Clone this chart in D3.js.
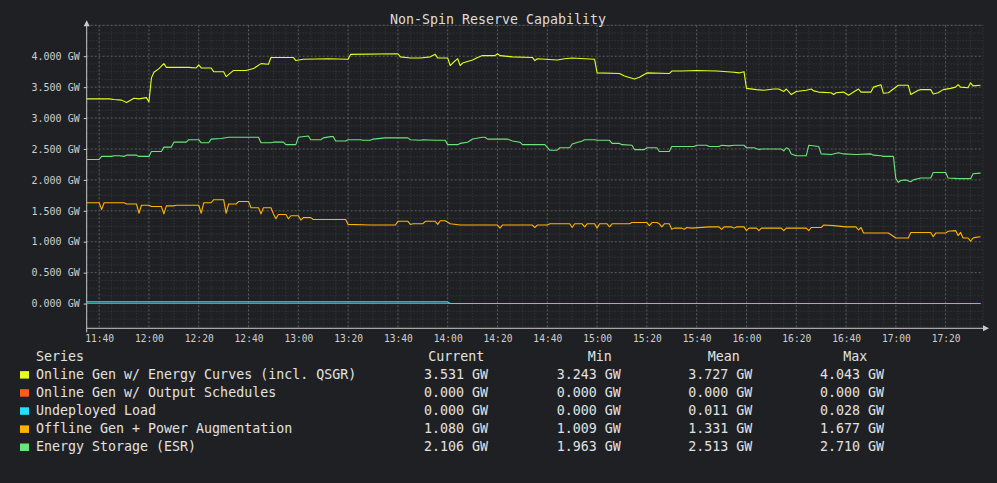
<!DOCTYPE html>
<html>
<head>
<meta charset="utf-8">
<script src="https://cdn.jsdelivr.net/npm/d3@7"></script>
<style>
html, body { margin: 0; background: #1f2023; }
svg { display: block; font-family: "DejaVu Sans Mono", monospace; }
</style>
</head>
<body>
<svg id="chart" width="997" height="483"></svg>
<script>
'use strict';

var chartTitle = "Non-Spin Reserve Capability";
var seriesNames = [
    "Online Gen w/ Energy Curves (incl. QSGR)",
    "Online Gen w/ Output Schedules",
    "Undeployed Load",
    "Offline Gen + Power Augmentation",
    "Energy Storage (ESR)"
];
var seriesColors = ["#e4ff1c", "#ff5a1f", "#22e1ff", "#ffb300", "#6ce47c"];
var legendHeaders = ["Series", "Current", "Min", "Mean", "Max"];
var statCurrent = [3.531, 0.000, 0.000, 1.080, 2.106];
var statMin = [3.243, 0.000, 0.000, 1.009, 1.963];
var statMean = [3.727, 0.000, 0.011, 1.331, 2.513];
var statMax = [4.043, 0.000, 0.028, 1.677, 2.710];

var timeStart = "11:35", timeEnd = "17:35";
var valueMin = -0.4, valueMax = 4.5;

// values in GW
var energyCurves = [["11:35",3.31],["11:44",3.31],["11:46",3.30],["11:49",3.29],["11:51",3.25],["11:54",3.32],["11:56",3.31],["11:59",3.33],["12:00",3.26],["12:01",3.65],["12:02",3.74],["12:04",3.80],["12:06",3.88],["12:07",3.82],["12:16",3.82],["12:19",3.81],["12:20",3.86],["12:21",3.81],["12:25",3.81],["12:26",3.75],["12:30",3.75],["12:31",3.67],["12:34",3.77],["12:39",3.77],["12:42",3.80],["12:45",3.88],["12:48",3.87],["12:49",3.98],["12:58",3.98],["12:59",3.93],["13:02",3.95],["13:12",3.96],["13:20",3.95],["13:21",4.03],["13:40",4.04],["13:41",3.99],["13:45",3.97],["13:49",3.97],["13:53",3.99],["13:55",4.03],["13:56",3.97],["14:00",3.97],["14:01",3.85],["14:02",3.89],["14:04",3.96],["14:05",3.85],["14:06",3.89],["14:10",3.94],["14:12",3.98],["14:14",4.01],["14:19",4.01],["14:20",4.04],["14:21",4.01],["14:26",3.99],["14:34",3.98],["14:35",3.93],["14:36",3.96],["14:44",3.94],["14:47",3.96],["14:50",3.97],["14:55",3.96],["14:59",3.95],["15:00",3.73],["15:09",3.72],["15:11",3.68],["15:15",3.63],["15:17",3.66],["15:20",3.73],["15:29",3.72],["15:30",3.76],["15:34",3.76],["15:40",3.77],["15:48",3.76],["15:55",3.74],["15:57",3.73],["15:59",3.75],["16:00",3.48],["16:04",3.46],["16:07",3.45],["16:11",3.47],["16:13",3.47],["16:15",3.43],["16:16",3.47],["16:18",3.38],["16:20",3.43],["16:24",3.45],["16:26",3.47],["16:27",3.44],["16:29",3.42],["16:34",3.41],["16:35",3.38],["16:36",3.41],["16:39",3.42],["16:41",3.37],["16:43",3.42],["16:45",3.47],["16:46",3.42],["16:50",3.42],["16:51",3.50],["16:54",3.54],["16:55",3.40],["16:57",3.41],["16:59",3.47],["17:01",3.53],["17:05",3.53],["17:06",3.38],["17:09",3.45],["17:10",3.46],["17:14",3.46],["17:15",3.39],["17:17",3.41],["17:19",3.46],["17:22",3.48],["17:24",3.50],["17:25",3.54],["17:26",3.50],["17:29",3.49],["17:30",3.57],["17:31",3.52],["17:34",3.53]];
var outputSchedules = [["11:35",0],["17:34",0]];
var undeployedLoad = [["11:35",0.028],["14:00",0.028],["14:01",0],["17:34",0]];
var offlineGen = [["11:35",1.63],["11:40",1.63],["11:41",1.52],["11:42",1.63],["11:50",1.63],["11:51",1.61],["11:55",1.61],["11:56",1.46],["11:57",1.59],["12:00",1.59],["12:01",1.57],["12:05",1.57],["12:06",1.45],["12:07",1.58],["12:10",1.58],["12:11",1.59],["12:20",1.59],["12:21",1.46],["12:22",1.63],["12:25",1.63],["12:26",1.68],["12:30",1.68],["12:31",1.46],["12:32",1.61],["12:35",1.61],["12:36",1.65],["12:40",1.65],["12:41",1.55],["12:44",1.55],["12:45",1.45],["12:46",1.55],["12:49",1.55],["12:50",1.45],["12:51",1.37],["12:52",1.44],["12:55",1.44],["12:56",1.37],["12:57",1.42],["13:00",1.42],["13:01",1.35],["13:02",1.39],["13:05",1.39],["13:06",1.36],["13:19",1.36],["13:20",1.28],["13:29",1.27],["13:39",1.27],["13:40",1.33],["13:44",1.33],["13:45",1.28],["13:46",1.29],["13:50",1.29],["13:51",1.33],["13:55",1.33],["13:56",1.28],["13:57",1.34],["13:59",1.34],["14:01",1.29],["14:05",1.27],["14:20",1.27],["14:21",1.22],["14:22",1.27],["14:34",1.27],["14:35",1.23],["14:36",1.27],["14:40",1.27],["14:41",1.29],["14:49",1.29],["14:50",1.23],["14:51",1.29],["14:54",1.29],["14:55",1.24],["14:56",1.29],["14:59",1.29],["15:00",1.22],["15:01",1.29],["15:04",1.29],["15:05",1.24],["15:06",1.29],["15:13",1.29],["15:14",1.31],["15:20",1.31],["15:21",1.26],["15:22",1.31],["15:24",1.31],["15:25",1.29],["15:26",1.24],["15:27",1.29],["15:29",1.29],["15:30",1.20],["15:31",1.22],["15:34",1.22],["15:35",1.20],["15:36",1.23],["15:38",1.22],["15:45",1.24],["15:49",1.24],["15:50",1.20],["15:51",1.24],["15:54",1.24],["15:55",1.22],["15:56",1.24],["15:59",1.24],["16:00",1.18],["16:01",1.22],["16:04",1.22],["16:05",1.18],["16:06",1.22],["16:14",1.22],["16:15",1.18],["16:16",1.22],["16:24",1.22],["16:25",1.18],["16:26",1.23],["16:30",1.23],["16:31",1.27],["16:35",1.26],["16:40",1.24],["16:44",1.24],["16:45",1.19],["16:46",1.23],["16:47",1.14],["16:57",1.14],["17:00",1.06],["17:05",1.06],["17:06",1.15],["17:14",1.15],["17:15",1.08],["17:16",1.14],["17:20",1.14],["17:21",1.17],["17:24",1.18],["17:25",1.10],["17:26",1.15],["17:27",1.06],["17:29",1.06],["17:30",1.01],["17:31",1.06],["17:32",1.07],["17:34",1.08]];
var energyStorage = [["11:35",2.33],["11:40",2.33],["11:41",2.38],["11:45",2.38],["11:46",2.39],["11:48",2.39],["11:50",2.38],["11:51",2.40],["11:55",2.40],["11:56",2.38],["12:00",2.38],["12:01",2.46],["12:05",2.46],["12:06",2.53],["12:09",2.53],["12:10",2.61],["12:15",2.61],["12:16",2.65],["12:20",2.65],["12:21",2.60],["12:24",2.60],["12:25",2.66],["12:29",2.67],["12:32",2.69],["12:44",2.69],["12:45",2.60],["12:49",2.60],["12:50",2.61],["12:54",2.61],["12:55",2.57],["12:59",2.57],["13:00",2.69],["13:04",2.71],["13:05",2.65],["13:09",2.65],["13:10",2.68],["13:13",2.70],["13:14",2.70],["13:15",2.63],["13:19",2.63],["13:20",2.65],["13:25",2.65],["13:26",2.64],["13:29",2.64],["13:30",2.66],["13:35",2.68],["13:44",2.68],["13:45",2.65],["13:49",2.64],["13:50",2.65],["13:55",2.64],["13:59",2.64],["14:00",2.57],["14:04",2.57],["14:05",2.59],["14:08",2.61],["14:10",2.66],["14:14",2.69],["14:15",2.69],["14:16",2.66],["14:24",2.66],["14:26",2.63],["14:29",2.61],["14:30",2.57],["14:39",2.57],["14:41",2.48],["14:44",2.48],["14:45",2.52],["14:49",2.52],["14:50",2.58],["14:54",2.63],["14:55",2.65],["14:59",2.65],["15:00",2.64],["15:05",2.64],["15:06",2.59],["15:09",2.59],["15:10",2.57],["15:14",2.56],["15:15",2.49],["15:19",2.49],["15:20",2.52],["15:24",2.52],["15:25",2.46],["15:29",2.46],["15:30",2.54],["15:39",2.54],["15:40",2.56],["15:44",2.56],["15:45",2.54],["15:49",2.54],["15:50",2.56],["15:53",2.55],["15:55",2.56],["15:59",2.56],["16:00",2.52],["16:03",2.52],["16:05",2.49],["16:06",2.50],["16:14",2.50],["16:15",2.47],["16:16",2.52],["16:17",2.50],["16:18",2.42],["16:20",2.39],["16:24",2.39],["16:25",2.56],["16:29",2.54],["16:30",2.42],["16:34",2.41],["16:37",2.44],["16:39",2.42],["16:44",2.41],["16:50",2.42],["16:51",2.40],["16:54",2.39],["16:55",2.38],["16:59",2.38],["17:00",2.02],["17:01",1.96],["17:02",1.99],["17:04",2.00],["17:06",1.97],["17:07",2.00],["17:10",2.03],["17:14",2.03],["17:15",2.12],["17:20",2.12],["17:21",2.03],["17:25",2.02],["17:30",2.02],["17:31",2.10],["17:34",2.11]];

var seriesData = [energyCurves, outputSchedules, undeployedLoad, offlineGen, energyStorage];

var Chart = function() {
    return {
        svg: null,
        left: 86.7,
        right: 983,
        top: 25.3,
        bottom: 328.3,
        parse: d3.timeParse("%H:%M"),
        init: function() {
            this.svg = d3.select("#chart");
            this.x = d3.scaleTime()
                .domain([this.parse(timeStart), this.parse(timeEnd)])
                .range([this.left, this.right]);
            this.y = d3.scaleLinear()
                .domain([valueMin, valueMax])
                .range([this.bottom, this.top]);

            this.drawGrid();
            this.drawAxes();
            this.drawLines();
            this.drawLegend();

            this.svg.append("text")
                .attr("x", 498)
                .attr("y", 23.5)
                .attr("text-anchor", "middle")
                .attr("fill", "#dcdcdc")
                .style("font-size", "13.3px")
                .text(chartTitle);
        },
        drawGrid: function() {
            var x = this.x, y = this.y, self = this;
            var grid = this.svg.append("g").attr("class", "grid");
            var majorX = x.ticks(d3.timeMinute.every(20)).map(Number);
            var minorX = x.ticks(d3.timeMinute.every(5))
                .filter(d => majorX.indexOf(+d) < 0 && x(d) > self.left + 1);
            var majorY = y.ticks(10).filter(d => Math.abs((d * 2) - Math.round(d * 2)) < 1e-9);
            var minorY = d3.range(-0.375, valueMax + 1e-9, 0.125)
                .filter(d => Math.abs(d * 2 - Math.round(d * 2)) > 1e-9);
            // also the 4.5 line at the top
            minorY.push(valueMax);

            grid.selectAll("line.minor-x")
                .data(minorX)
                .enter().append("line")
                    .attr("x1", d => x(d)).attr("x2", d => x(d))
                    .attr("y1", this.top).attr("y2", this.bottom)
                    .attr("stroke", "#3b3c40")
                    .attr("stroke-dasharray", "1,2");
            grid.selectAll("line.minor-y")
                .data(minorY)
                .enter().append("line")
                    .attr("x1", this.left).attr("x2", this.right)
                    .attr("y1", d => y(d)).attr("y2", d => y(d))
                    .attr("stroke", "#3b3c40")
                    .attr("stroke-dasharray", "1,2");
            grid.selectAll("line.major-x")
                .data(majorX)
                .enter().append("line")
                    .attr("x1", d => x(d)).attr("x2", d => x(d))
                    .attr("y1", this.top).attr("y2", this.bottom)
                    .attr("stroke", "#5c5d61")
                    .attr("stroke-dasharray", "2,2");
            grid.selectAll("line.major-y")
                .data(majorY)
                .enter().append("line")
                    .attr("x1", this.left).attr("x2", this.right)
                    .attr("y1", d => y(d)).attr("y2", d => y(d))
                    .attr("stroke", "#5c5d61")
                    .attr("stroke-dasharray", "2,2");
        },
        drawAxes: function() {
            var x = this.x, y = this.y;
            var axisColor = "#c9c9c9";

            var xAxis = this.svg.append("g")
                .attr("transform", "translate(0," + this.bottom + ")")
                .call(d3.axisBottom(x)
                    .ticks(d3.timeMinute.every(20))
                    .tickFormat(d3.timeFormat("%H:%M"))
                    .tickSize(0)
                    .tickPadding(7));
            xAxis.select(".domain").remove();
            xAxis.selectAll("text")
                .attr("fill", "#cfcfcf")
                .style("font-size", "9.6px")
                .style("font-family", "DejaVu Sans Mono, monospace");

            var yAxis = this.svg.append("g")
                .attr("transform", "translate(" + this.left + ",0)")
                .call(d3.axisLeft(y)
                    .tickValues(d3.range(0, 4.01, 0.5))
                    .tickFormat(d => d3.format(".3f")(d) + " GW")
                    .tickSize(3)
                    .tickPadding(4));
            yAxis.select(".domain").remove();
            yAxis.selectAll("line").attr("stroke", axisColor);
            yAxis.selectAll("text")
                .attr("fill", "#cfcfcf")
                .style("font-size", "10px")
                .style("font-family", "DejaVu Sans Mono, monospace");

            // axis lines with arrow heads
            this.svg.append("line")
                .attr("x1", this.left).attr("x2", this.right + 2)
                .attr("y1", this.bottom).attr("y2", this.bottom)
                .attr("stroke", axisColor);
            this.svg.append("line")
                .attr("x1", this.left).attr("x2", this.left)
                .attr("y1", this.bottom + 4).attr("y2", this.top - 2)
                .attr("stroke", axisColor);
            this.svg.append("path")
                .attr("d", "M" + (this.right + 6) + "," + this.bottom +
                    "L" + this.right + "," + (this.bottom - 3) +
                    "L" + this.right + "," + (this.bottom + 3) + "Z")
                .attr("fill", axisColor);
            this.svg.append("path")
                .attr("d", "M" + this.left + "," + (this.top - 5) +
                    "L" + (this.left - 3) + "," + (this.top + 1) +
                    "L" + (this.left + 3) + "," + (this.top + 1) + "Z")
                .attr("fill", axisColor);
        },
        drawLines: function() {
            var x = this.x, y = this.y, parse = this.parse;
            var line = d3.line()
                .x(d => x(parse(d[0])))
                .y(d => y(d[1]));
            this.svg.append("g")
                .attr("class", "lines")
                .selectAll("path")
                .data(seriesData)
                .enter().append("path")
                    .attr("d", line)
                    .attr("fill", "none")
                    .attr("stroke", (d, i) => seriesColors[i])
                    .attr("stroke-width", 1.1)
                    .attr("stroke-linejoin", "round");
        },
        drawLegend: function() {
            var legend = this.svg.append("g")
                .attr("class", "legend")
                .attr("fill", "#e2e2e2")
                .style("font-size", "13.3px");
            var headerX = [36, 428.3, 587.7, 707.7, 843.3];
            var valueX = [424, 556.7, 688.3, 820];
            var rowY = d3.range(0, 6).map(i => 360.5 + i * 18.1);
            var fmt = d => d3.format(".3f")(d) + " GW";

            legend.selectAll("text.header")
                .data(legendHeaders)
                .enter().append("text")
                    .attr("x", (d, i) => headerX[i])
                    .attr("y", rowY[0])
                    .text(d => d);

            var rows = legend.selectAll("g.row")
                .data(seriesNames)
                .enter().append("g")
                    .attr("transform", (d, i) => "translate(0," + rowY[i + 1] + ")");
            rows.append("rect")
                .attr("x", 20).attr("y", -7.5)
                .attr("width", 9).attr("height", 7.5)
                .attr("fill", (d, i) => seriesColors[i]);
            rows.append("text")
                .attr("x", 36)
                .text(d => d);
            [statCurrent, statMin, statMean, statMax].forEach(function(stat, c) {
                rows.append("text")
                    .attr("x", valueX[c])
                    .text((d, i) => fmt(stat[i]));
            });
        }
    };
}();

Chart.init();
</script>
</body>
</html>
